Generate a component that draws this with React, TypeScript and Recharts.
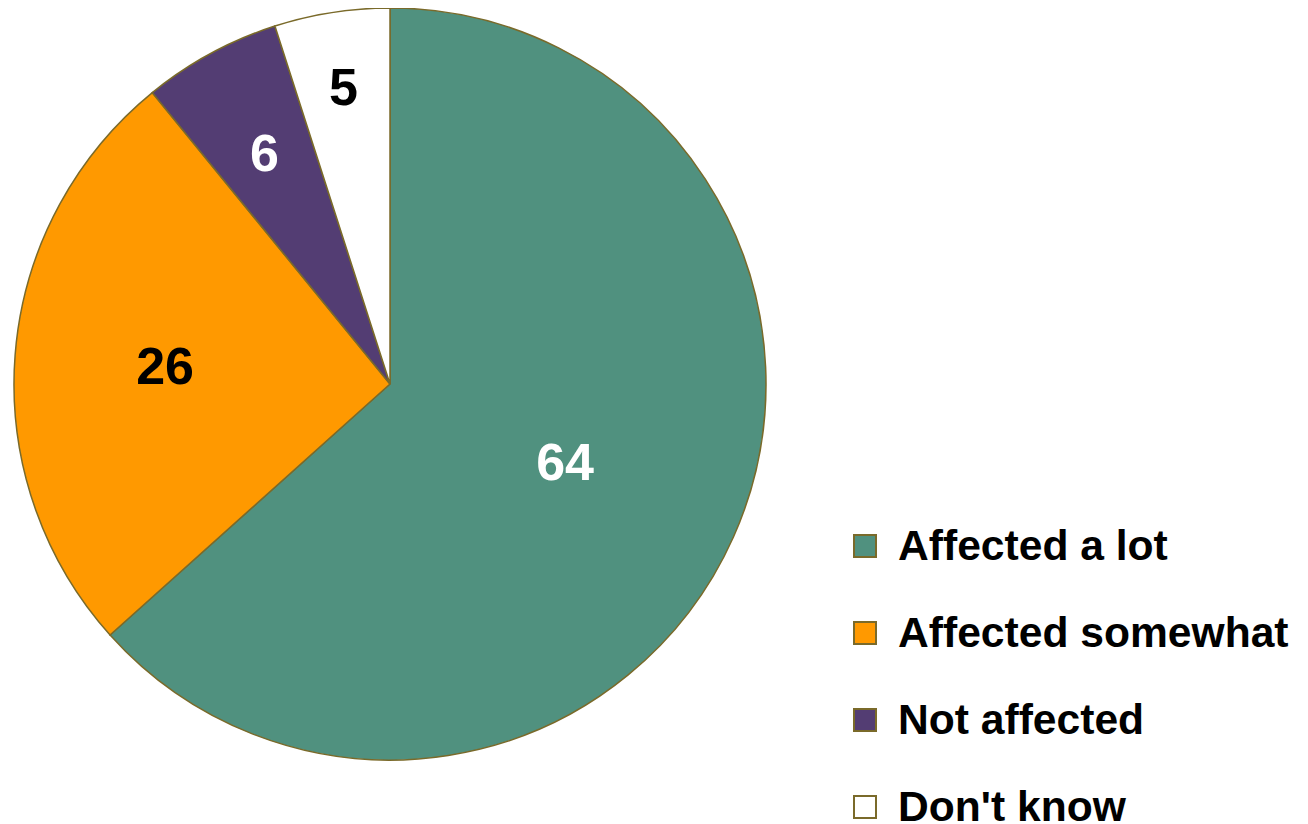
import React from "react";
import { PieChart, Pie, Cell, Legend } from "recharts";

const categories = ["Affected a lot", "Affected somewhat", "Not affected", "Don't know"];
const values = [64, 26, 6, 5];

const colors = ["#50917f", "#ff9900", "#533d73", "#ffffff"];
const labelColors = ["#ffffff", "#000000", "#ffffff", "#000000"];
const labelRadiusFactor = [0.51, 0.6, 0.7, 0.8];
const strokeColor = "#7a6a2a";

const data = categories.map((name, i) => ({ name, value: values[i] }));

const RADIAN = Math.PI / 180;

const renderLabel = (props: any) => {
  const { cx, cy, midAngle, outerRadius, index, value } = props;
  const r = outerRadius * labelRadiusFactor[index];
  const x = cx + r * Math.cos(-midAngle * RADIAN);
  const y = cy + r * Math.sin(-midAngle * RADIAN);
  return (
    <text
      x={x}
      y={y}
      fill={labelColors[index]}
      textAnchor="middle"
      dominantBaseline="central"
      fontFamily="'Liberation Sans', Arial, sans-serif"
      fontWeight="bold"
      fontSize={52}
    >
      {value}
    </text>
  );
};

const renderLegend = () => (
  <div style={{ fontFamily: "'Liberation Sans', Arial, sans-serif" }}>
    {categories.map((c, i) => (
      <div key={c} style={{ height: 87, display: "flex", alignItems: "center" }}>
        <div
          style={{
            width: 20,
            height: 20,
            background: colors[i],
            border: `2px solid ${strokeColor}`,
            flex: "none",
          }}
        />
        <span
          style={{
            marginLeft: 21,
            fontSize: 42.6,
            fontWeight: "bold",
            color: "#000",
            whiteSpace: "nowrap",
            lineHeight: 1,
          }}
        >
          {c}
        </span>
      </div>
    ))}
  </div>
);

export default function App() {
  return (
    <PieChart width={1300} height={816}>
      <Pie
        data={data}
        dataKey="value"
        nameKey="name"
        cx={377}
        cy={371}
        outerRadius={376}
        startAngle={90}
        endAngle={-270}
        stroke={strokeColor}
        strokeWidth={1.5}
        label={renderLabel}
        labelLine={false}
        isAnimationActive={false}
      >
        {data.map((d, i) => (
          <Cell key={d.name} fill={colors[i]} />
        ))}
      </Pie>
      <Legend
        content={renderLegend}
        wrapperStyle={{ position: "absolute", left: 845, top: 494, width: 460 }}
      />
    </PieChart>
  );
}
